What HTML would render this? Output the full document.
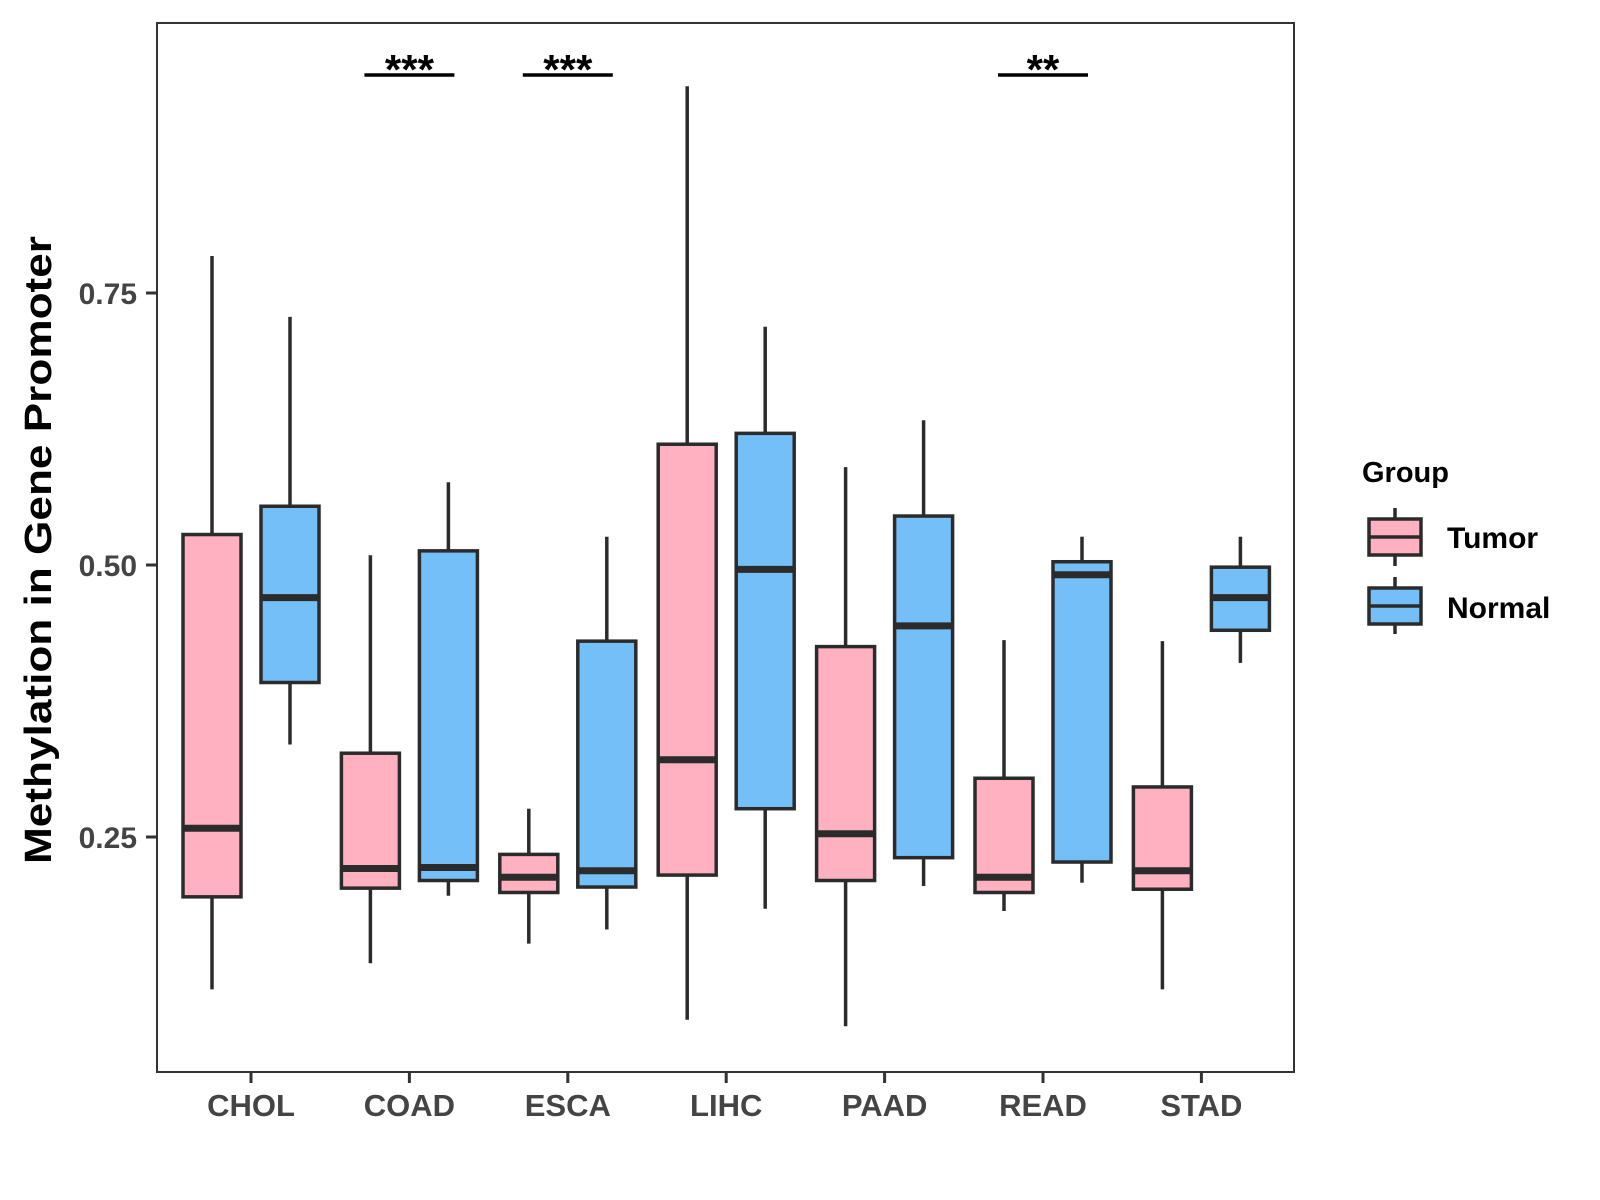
<!DOCTYPE html>
<html><head><meta charset="utf-8"><style>
html,body{margin:0;padding:0;background:#fff;}
svg{display:block;font-family:"Liberation Sans",Arial,sans-serif;font-weight:bold;}
</style></head><body>
<svg id="chart" width="1600" height="1200" viewBox="0 0 1600 1200" xmlns="http://www.w3.org/2000/svg">
<rect x="0" y="0" width="1600" height="1200" fill="#fff"/>
<g id="plot"></g>
<rect x="157" y="23" width="1137" height="1049" fill="none" stroke="#333" stroke-width="2"/>
<text x="39" y="550" transform="rotate(-90 39 550)" text-anchor="middle" dominant-baseline="central" font-size="38" fill="#000" textLength="628" lengthAdjust="spacingAndGlyphs">Methylation in Gene Promoter</text>
<g>
<text x="1362" y="482" font-size="29" fill="#000">Group</text>
<g>
<line x1="1395" y1="508" x2="1395" y2="566" stroke="#2b2b2b" stroke-width="3.5"/>
<rect x="1369" y="519" width="52" height="36" fill="#FFB0C1" stroke="#2b2b2b" stroke-width="3.5"/>
<line x1="1369" y1="537" x2="1421" y2="537" stroke="#2b2b2b" stroke-width="3.5"/>
<text x="1447" y="548" font-size="30" fill="#000">Tumor</text>
</g>
<g>
<line x1="1395" y1="577" x2="1395" y2="634" stroke="#2b2b2b" stroke-width="3.5"/>
<rect x="1369" y="588" width="52" height="36" fill="#74BFF7" stroke="#2b2b2b" stroke-width="3.5"/>
<line x1="1369" y1="606" x2="1421" y2="606" stroke="#2b2b2b" stroke-width="3.5"/>
<text x="1447" y="618" font-size="30" fill="#000">Normal</text>
</g>
</g>
</svg>
<script>
const categories = ["CHOL","COAD","ESCA","LIHC","PAAD","READ","STAD"];
const tumorLow = [0.110,0.134,0.152,0.082,0.076,0.182,0.110];
const tumorQ1 = [0.195,0.203,0.199,0.215,0.210,0.199,0.202];
const tumorMed = [0.258,0.221,0.213,0.321,0.253,0.213,0.219];
const tumorQ3 = [0.528,0.327,0.234,0.611,0.425,0.304,0.296];
const tumorHigh = [0.784,0.509,0.276,0.940,0.590,0.431,0.430];
const normalLow = [0.335,0.196,0.165,0.184,0.205,0.208,0.410];
const normalQ1 = [0.392,0.210,0.204,0.276,0.231,0.227,0.440];
const normalMed = [0.470,0.222,0.219,0.496,0.444,0.491,0.470];
const normalQ3 = [0.554,0.513,0.430,0.621,0.545,0.503,0.498];
const normalHigh = [0.728,0.576,0.526,0.719,0.633,0.526,0.526];
const yTicks = [0.25,0.50,0.75];
const yTickLabels = ["0.25","0.50","0.75"];
const sigCategories = ["COAD","ESCA","READ"];
const sigLabels = ["***","***","**"];

const NS="http://www.w3.org/2000/svg";
const plot=document.getElementById('plot');
function y(v){return 837-(v-0.25)*1088;}
function x(i){return 251+i*158.4;}
function mk(tag,attrs,parent){const e=document.createElementNS(NS,tag);for(const k in attrs)e.setAttribute(k,attrs[k]);(parent||plot).appendChild(e);return e;}
const stroke="#2b2b2b";
function box(cx,lo,q1,md,q3,hi,fill,name){
  const g=mk('g',{});
  
  
  mk('line',{x1:cx,x2:cx,y1:y(hi),y2:y(q3),stroke:stroke,'stroke-width':3.5},g);
  mk('line',{x1:cx,x2:cx,y1:y(q1),y2:y(lo),stroke:stroke,'stroke-width':3.5},g);
  mk('rect',{x:cx-29,y:y(q3),width:58,height:y(q1)-y(q3),fill:fill,stroke:stroke,'stroke-width':3.5},g);
  mk('line',{x1:cx-29,x2:cx+29,y1:y(md),y2:y(md),stroke:stroke,'stroke-width':7},g);
}
categories.forEach((c,i)=>{
  box(x(i)-39,tumorLow[i],tumorQ1[i],tumorMed[i],tumorQ3[i],tumorHigh[i],"#FFB0C1","box-"+c.toLowerCase()+"-tumor");
  box(x(i)+39,normalLow[i],normalQ1[i],normalMed[i],normalQ3[i],normalHigh[i],"#74BFF7","box-"+c.toLowerCase()+"-normal");
  const t=mk('line',{x1:x(i),x2:x(i),y1:1072,y2:1083,stroke:"#333",'stroke-width':3});
  
  
  const l=mk('text',{x:x(i),y:1116,'text-anchor':'middle','font-size':31,fill:'#444'});
  l.textContent=c;
  
  
});
yTicks.forEach((v,i)=>{
  const t=mk('line',{x1:146,x2:157,y1:y(v),y2:y(v),stroke:"#333",'stroke-width':3});
  
  
  const l=mk('text',{x:137,y:y(v)+11,'text-anchor':'end','font-size':30,fill:'#444'});
  l.textContent=yTickLabels[i];
  
  
});
sigCategories.forEach((c,k)=>{
  const i=categories.indexOf(c);
  const b=mk('line',{x1:x(i)-45,x2:x(i)+45,y1:75,y2:75,stroke:"#000",'stroke-width':3.5});
  
  
  const s=mk('text',{x:x(i),y:84,'text-anchor':'middle','font-size':42,fill:'#000'});
  s.textContent=sigLabels[k];
  
  
});
</script>
</body></html>
